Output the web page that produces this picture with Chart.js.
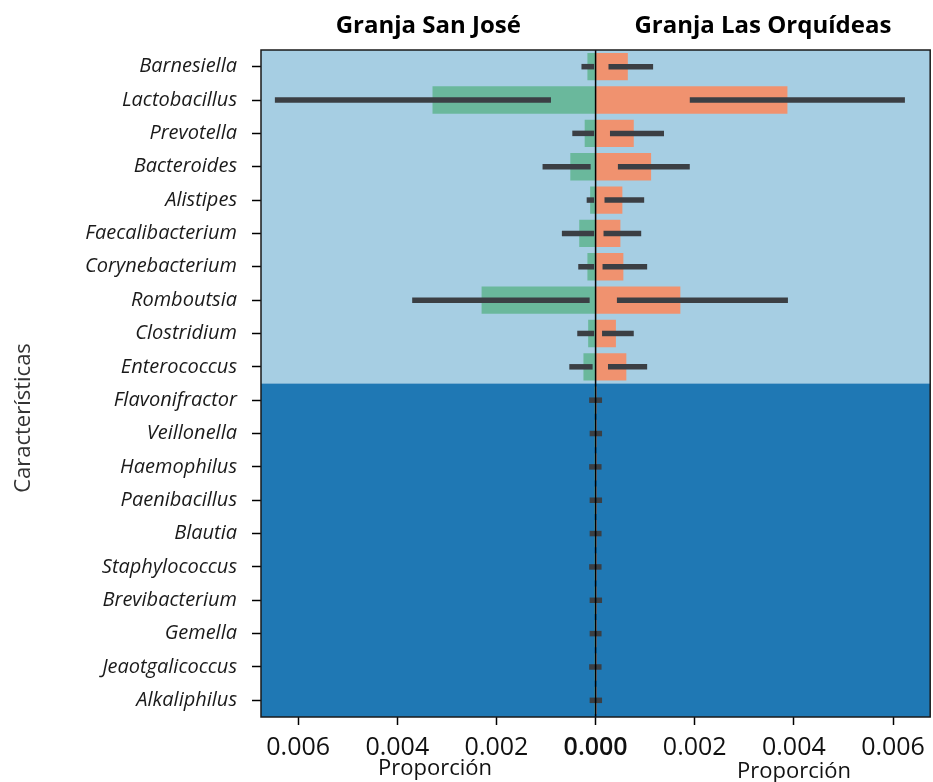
<!DOCTYPE html>
<html>
<head>
<meta charset="utf-8">
<script src="https://cdn.jsdelivr.net/npm/chart.js@4.4.1/dist/chart.umd.min.js"></script>
<style>
  html, body { margin: 0; padding: 0; background: #ffffff; }
  #wrap { width: 933px; height: 782px; }
</style>
</head>
<body>
<div id="wrap"><canvas id="chart" width="933" height="782"></canvas></div>
<script>
// Genera, ordered top to bottom
const generos = [
  'Barnesiella', 'Lactobacillus', 'Prevotella', 'Bacteroides', 'Alistipes',
  'Faecalibacterium', 'Corynebacterium', 'Romboutsia', 'Clostridium', 'Enterococcus',
  'Flavonifractor', 'Veillonella', 'Haemophilus', 'Paenibacillus', 'Blautia',
  'Staphylococcus', 'Brevibacterium', 'Gemella', 'Jeaotgalicoccus', 'Alkaliphilus'
];

// Mean proportion per farm
const sanJose = [
  0.000165, 0.00329, 0.00022, 0.00051, 0.00011,
  0.00033, 0.000165, 0.0023, 0.00015, 0.000245,
  0.00002, 0.00002, 0.00002, 0.00002, 0.00002,
  0.00002, 0.00002, 0.00002, 0.00002, 0.00002
];
const lasOrquideas = [
  0.00065, 0.00387, 0.00077, 0.00112, 0.00054,
  0.00050, 0.00056, 0.00171, 0.00041, 0.00062,
  0.00002, 0.00002, 0.00002, 0.00002, 0.00002,
  0.00002, 0.00002, 0.00002, 0.00002, 0.00002
];

// Confidence interval bounds per farm
const sanJoseLow = [
  0.00003, 0.00090, 0.00003, 0.00010, 0.00003,
  0.00003, 0.00003, 0.00012, 0.00003, 0.00006,
  0.0, 0.0, 0.0, 0.0, 0.0, 0.0, 0.0, 0.0, 0.0, 0.0
];
const sanJoseHigh = [
  0.000285, 0.00647, 0.00047, 0.00107, 0.00018,
  0.00068, 0.00035, 0.00370, 0.00037, 0.00053,
  0.00013, 0.00012, 0.00013, 0.00012, 0.00012,
  0.00013, 0.00012, 0.00012, 0.00013, 0.00012
];
const lasOrquideasLow = [
  0.00026, 0.00190, 0.00029, 0.00045, 0.00018,
  0.00016, 0.00014, 0.00043, 0.00013, 0.00025,
  0.0, 0.0, 0.0, 0.0, 0.0, 0.0, 0.0, 0.0, 0.0, 0.0
];
const lasOrquideasHigh = [
  0.00116, 0.00624, 0.00138, 0.00190, 0.00098,
  0.00092, 0.00104, 0.00388, 0.00077, 0.00104,
  0.00013, 0.00013, 0.00012, 0.00013, 0.00012,
  0.00012, 0.00013, 0.00012, 0.00012, 0.00013
];

const xTicks = [-0.006, -0.004, -0.002, 0, 0.002, 0.004, 0.006];
const topGroupSize = 10;

const FONT = '"Open Sans", "Noto Sans", sans-serif';

// Two coloured bands behind the bars, split after the first group of genera
const bandsPlugin = {
  id: 'bands',
  beforeDatasetsDraw(chart) {
    const { ctx, chartArea: a, scales: { y } } = chart;
    const split = (y.getPixelForValue(topGroupSize - 1) + y.getPixelForValue(topGroupSize)) / 2;
    ctx.save();
    ctx.fillStyle = '#a6cee3';
    ctx.fillRect(a.left, a.top, a.right - a.left, split - a.top);
    ctx.fillStyle = '#1f78b4';
    ctx.fillRect(a.left, split, a.right - a.left, a.bottom - split);
    ctx.restore();
  }
};

// Error bars, frame, zero line and the panel texts
const overlayPlugin = {
  id: 'overlay',
  afterDatasetsDraw(chart) {
    const { ctx, chartArea: a, scales: { x, y } } = chart;
    ctx.save();
    ctx.strokeStyle = '#3b3f44';
    ctx.lineWidth = 5.5;
    ctx.lineCap = 'butt';
    generos.forEach((g, i) => {
      const py = y.getPixelForValue(i);
      ctx.beginPath();
      ctx.moveTo(x.getPixelForValue(-sanJoseHigh[i]), py);
      ctx.lineTo(x.getPixelForValue(-sanJoseLow[i]), py);
      ctx.stroke();
      ctx.beginPath();
      ctx.moveTo(x.getPixelForValue(lasOrquideasLow[i]), py);
      ctx.lineTo(x.getPixelForValue(lasOrquideasHigh[i]), py);
      ctx.stroke();
    });
    // zero line
    const x0 = x.getPixelForValue(0);
    ctx.strokeStyle = '#000';
    ctx.lineWidth = 1.5;
    ctx.beginPath();
    ctx.moveTo(x0, a.top);
    ctx.lineTo(x0, a.bottom);
    ctx.stroke();
    // frame
    ctx.strokeStyle = '#1a1a1a';
    ctx.lineWidth = 1.5;
    ctx.strokeRect(a.left, a.top, a.right - a.left, a.bottom - a.top);

    // panel titles
    ctx.fillStyle = '#000';
    ctx.textAlign = 'center';
    ctx.textBaseline = 'middle';
    ctx.font = 'bold 24px ' + FONT;
    ctx.fillText('Granja San José', (a.left + x0) / 2, 26);
    ctx.fillText('Granja Las Orquídeas', (x0 + a.right) / 2, 26);

    // axis titles
    ctx.font = '22px ' + FONT;
    ctx.fillStyle = '#111';
    ctx.fillText('Proporción', 435, 769);
    ctx.fillText('Proporción', 794, 772);

    ctx.save();
    ctx.translate(24, 418);
    ctx.rotate(-Math.PI / 2);
    ctx.fillStyle = '#333';
    ctx.font = '22px ' + FONT;
    ctx.fillText('Características', 0, 0);
    ctx.restore();
    ctx.restore();
  }
};

new Chart(document.getElementById('chart'), {
  type: 'bar',
  data: {
    labels: generos,
    datasets: [
      {
        label: 'Granja San José',
        data: sanJose.map(v => -v),
        backgroundColor: '#6ab89c',
        barPercentage: 0.82,
        categoryPercentage: 1.0
      },
      {
        label: 'Granja Las Orquídeas',
        data: lasOrquideas,
        backgroundColor: '#f0926f',
        barPercentage: 0.82,
        categoryPercentage: 1.0
      }
    ]
  },
  options: {
    indexAxis: 'y',
    responsive: false,
    animation: false,
    layout: { padding: { top: 50, right: 2, left: 0, bottom: 0 } },
    plugins: {
      legend: { display: false },
      tooltip: { enabled: false },
      title: { display: false }
    },
    scales: {
      x: {
        type: 'linear',
        stacked: true,
        min: -0.00675,
        max: 0.00675,
        afterBuildTicks(scale) {
          scale.ticks = xTicks.map(v => ({ value: v }));
        },
        afterFit(scale) { scale.height = 65; },
        grid: {
          drawOnChartArea: false,
          drawTicks: true,
          tickLength: 8,
          tickWidth: 1.5,
          tickColor: '#000'
        },
        border: { display: false },
        ticks: {
          padding: 8,
          color: '#111',
          font: (c) => ({
            family: FONT,
            size: 25,
            weight: c.tick && c.tick.value === 0 ? '600' : 'normal'
          }),
          maxRotation: 0,
          callback: v => Math.abs(v).toFixed(3)
        }
      },
      y: {
        stacked: true,
        afterFit(scale) { scale.width = 261; },
        grid: {
          offset: false,
          drawOnChartArea: false,
          drawTicks: true,
          tickLength: 9,
          tickWidth: 1.5,
          tickColor: '#000'
        },
        border: { display: false },
        ticks: {
          padding: 15,
          color: '#1a1a1a',
          autoSkip: false,
          font: { family: FONT, size: 20, style: 'italic' }
        }
      }
    }
  },
  plugins: [bandsPlugin, overlayPlugin]
});
</script>
</body>
</html>
